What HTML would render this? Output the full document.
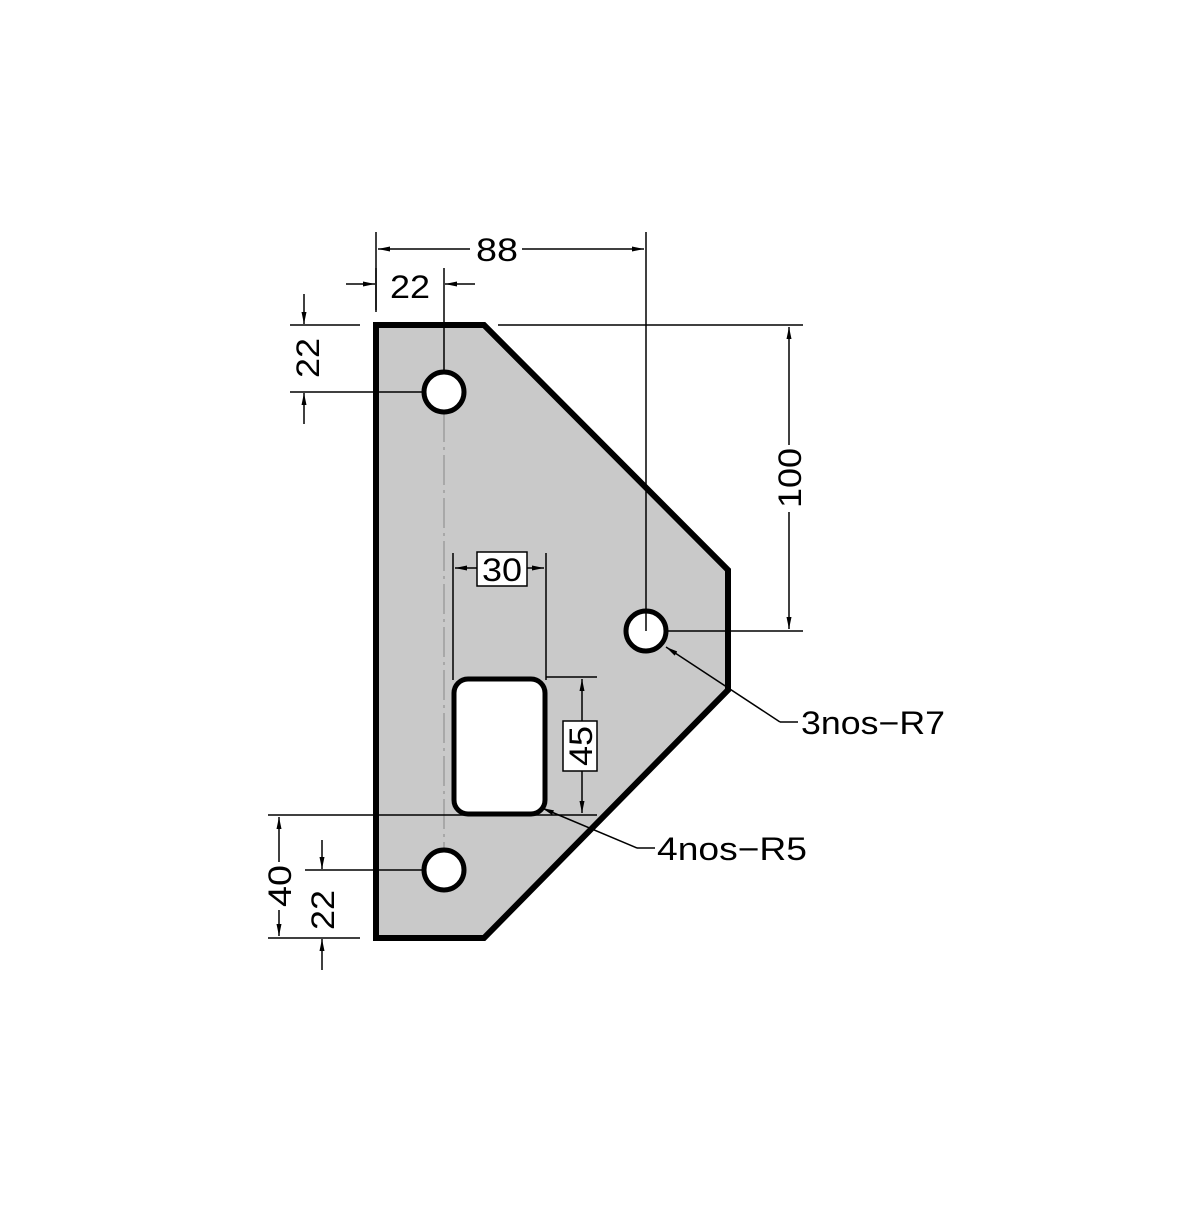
<!DOCTYPE html>
<html><head><style>html,body{margin:0;padding:0;background:#fff}</style></head>
<body>
<svg width="1200" height="1200" viewBox="0 0 1200 1200" xmlns="http://www.w3.org/2000/svg">
<defs>
<marker id="a" viewBox="0 0 12 6" refX="12" refY="3" markerWidth="12" markerHeight="6" markerUnits="userSpaceOnUse" orient="auto"><path d="M0,0.5 L12,3 L0,5.5z" fill="#000"/></marker>
</defs>
<polygon points="376,325 484,325 728,570 728,690 484,938 376,938" fill="#c9c9c9" stroke="#000" stroke-width="6" stroke-linejoin="miter"/>
<line x1="444" y1="412" x2="444" y2="850" stroke="#888" stroke-width="1" stroke-dasharray="30,5,3,5"/>
<g stroke="#999" stroke-width="1">
<line x1="430" y1="392" x2="458" y2="392"/><line x1="430" y1="870" x2="458" y2="870"/><line x1="444" y1="856" x2="444" y2="884"/>
<line x1="646" y1="617" x2="646" y2="645"/>
</g>
<g fill="#fff" stroke="#000" stroke-width="5">
<circle cx="444" cy="392" r="20"/>
<circle cx="444" cy="870" r="20"/>
<circle cx="646" cy="631" r="20"/>
<rect x="454" y="679" width="91" height="135" rx="14"/>
</g>
<g stroke="#000" stroke-width="1.5" fill="none">
<line x1="376" y1="232" x2="376" y2="312"/>
<line x1="646" y1="232" x2="646" y2="631"/>
<line x1="470" y1="249" x2="378" y2="249" marker-end="url(#a)"/>
<line x1="522" y1="249" x2="644" y2="249" marker-end="url(#a)"/>
<line x1="376" y1="268" x2="376" y2="310"/>
<line x1="444" y1="268" x2="444" y2="372"/>
<line x1="346" y1="284" x2="375" y2="284" marker-end="url(#a)"/>
<line x1="475" y1="284" x2="445" y2="284" marker-end="url(#a)"/>
<line x1="290" y1="325" x2="360" y2="325"/>
<line x1="290" y1="392" x2="424" y2="392"/>
<line x1="304" y1="294" x2="304" y2="324" marker-end="url(#a)"/>
<line x1="304" y1="424" x2="304" y2="393" marker-end="url(#a)"/>
<line x1="498" y1="325" x2="803" y2="325"/>
<line x1="666" y1="631" x2="803" y2="631"/>
<line x1="789" y1="445" x2="789" y2="327" marker-end="url(#a)"/>
<line x1="789" y1="512" x2="789" y2="629" marker-end="url(#a)"/>
<line x1="453" y1="553" x2="453" y2="680"/>
<line x1="546" y1="553" x2="546" y2="680"/>
<line x1="477" y1="568" x2="455" y2="568" marker-end="url(#a)"/>
<line x1="527" y1="568" x2="544" y2="568" marker-end="url(#a)"/>
<line x1="546" y1="677" x2="597" y2="677"/>
<line x1="268" y1="815" x2="597" y2="815"/>
<line x1="582" y1="721" x2="582" y2="679" marker-end="url(#a)"/>
<line x1="582" y1="771" x2="582" y2="813" marker-end="url(#a)"/>
<line x1="268" y1="938" x2="360" y2="938"/>
<line x1="279" y1="862" x2="279" y2="817" marker-end="url(#a)"/>
<line x1="279" y1="910" x2="279" y2="936" marker-end="url(#a)"/>
<line x1="305" y1="870" x2="424" y2="870"/>
<line x1="322" y1="840" x2="322" y2="869" marker-end="url(#a)"/>
<line x1="322" y1="970" x2="322" y2="939" marker-end="url(#a)"/>
<polyline points="780,722 798,722"/>
<line x1="780" y1="722" x2="666" y2="647" marker-end="url(#a)"/>
<polyline points="637,848 655,848"/>
<line x1="637" y1="848" x2="542" y2="808" marker-end="url(#a)"/>
</g>
<rect x="477" y="552" width="50" height="34" fill="#fff" stroke="#000" stroke-width="1.5"/>
<rect x="563" y="721" width="34" height="50" fill="#fff" stroke="#000" stroke-width="1.5"/>
<g font-family="Liberation Sans, sans-serif" font-size="32" fill="#000" text-anchor="middle" lengthAdjust="spacingAndGlyphs">
<text x="497" y="261" textLength="42" lengthAdjust="spacingAndGlyphs">88</text>
<text x="410" y="298" textLength="40" lengthAdjust="spacingAndGlyphs">22</text>
<text x="502" y="581" textLength="40" lengthAdjust="spacingAndGlyphs">30</text>
<text transform="translate(319,358) rotate(-90)" textLength="40" lengthAdjust="spacingAndGlyphs">22</text>
<text transform="translate(801,478) rotate(-90)" textLength="60" lengthAdjust="spacingAndGlyphs">100</text>
<text transform="translate(592,746) rotate(-90)" textLength="40" lengthAdjust="spacingAndGlyphs">45</text>
<text transform="translate(291,886) rotate(-90)" textLength="42" lengthAdjust="spacingAndGlyphs">40</text>
<text transform="translate(334,910) rotate(-90)" textLength="40" lengthAdjust="spacingAndGlyphs">22</text>
<text x="801" y="734" text-anchor="start" textLength="144" lengthAdjust="spacingAndGlyphs">3nos−R7</text>
<text x="657" y="860" text-anchor="start" textLength="150" lengthAdjust="spacingAndGlyphs">4nos−R5</text>
</g>
</svg>
</body></html>
